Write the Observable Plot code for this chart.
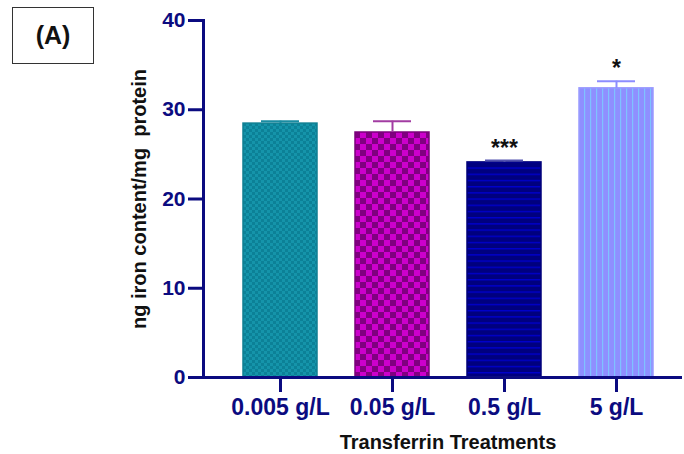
<!DOCTYPE html>
<html>
<head>
<meta charset="utf-8">
<script src="https://cdn.jsdelivr.net/npm/d3@7"></script>
<script src="https://cdn.jsdelivr.net/npm/@observablehq/plot@0.6"></script>
<style>
  html, body { margin: 0; padding: 0; background: #fff; }
  #chart { position: relative; width: 684px; height: 454px; font-family: "Liberation Sans", Arial, sans-serif; }
  #panel {
    position: absolute; left: 12px; top: 7px; width: 80px; height: 55px;
    border: 1px solid #333; display: flex; align-items: center; justify-content: center;
    font-weight: bold; font-size: 25px; color: #111; background: #fff;
  }
</style>
</head>
<body>
<div id="chart"><div id="panel">(A)</div></div>
<script>
// Iron content per treatment (mean and SD)
const treatments = ["0.005 g/L", "0.05 g/L", "0.5 g/L", "5 g/L"];
const means = [28.45, 27.45, 24.1, 32.4];
const sds = [0.27, 1.27, 0.21, 0.8];
const stars = ["", "", "***", "*"];
const yTicks = [0, 10, 20, 30, 40];

// Fill patterns and edge colours, one per treatment
const patternIds = ["pat-teal", "pat-purple", "pat-navy", "pat-blue"];
const edgeColors = ["#0f7f93", "#7a007a", "#00007a", "#9a9aff"];
const capColors = ["#1a8ca2", "#a23ca2", "#5252b0", "#8c8cff"];

const navy = "#0b0b80";

const rows = treatments.map((t, i) => ({
  treatment: t,
  mean: means[i],
  top: means[i] + sds[i],
  star: stars[i],
  fill: `url(#${patternIds[i]})`,
  edge: edgeColors[i],
  cap: capColors[i]
}));

const svg = Plot.plot({
  width: 684,
  height: 454,
  marginTop: 20,
  marginBottom: 77,
  marginLeft: 203,
  marginRight: 4,
  style: { fontFamily: '"Liberation Sans", Arial, sans-serif', fontWeight: "bold", background: "transparent" },
  x: { domain: treatments, range: [241, 655], paddingInner: 0.336, paddingOuter: 0, axis: null },
  y: { domain: [0, 40], axis: null },
  color: { type: "identity" },
  marks: [
    Plot.barY(rows, { x: "treatment", y: "mean", fill: "fill", stroke: "edge", strokeWidth: 1.5 }),
    Plot.ruleX(rows, { x: "treatment", y1: "mean", y2: "top", stroke: "cap", strokeWidth: 2 }),
    Plot.tickY(rows, { x: "treatment", y: "top", stroke: "cap", strokeWidth: 2, insetLeft: 18, insetRight: 18 }),
    Plot.text(rows, { x: "treatment", y: "top", text: "star", lineAnchor: "bottom", dy: -5, fontSize: 23, fill: "#111" }),
    Plot.frame({ anchor: "left", stroke: navy, strokeWidth: 3 }),
    Plot.frame({ anchor: "bottom", stroke: navy, strokeWidth: 3 }),
    Plot.axisY({ ticks: yTicks, tickSize: 15, tickPadding: 3, strokeWidth: 3, color: navy, fontSize: 21, label: null }),
    Plot.axisX({ tickSize: 15, tickPadding: 6, strokeWidth: 3, color: navy, fontSize: 23, label: null }),
    Plot.text(["Transferrin Treatments"], { frameAnchor: "bottom", dx: 6, dy: 65, lineAnchor: "middle", fontSize: 20, fill: "#111" }),
    Plot.text(["ng iron content/mg\u00a0 protein"], { frameAnchor: "left", textAnchor: "middle", rotate: -90, dx: -64, lineAnchor: "middle", fontSize: 20, fill: "#111" })
  ]
});

// Pattern definitions referenced by the bar fills
const defs = d3.select(svg).insert("defs", ":first-child");

const teal = defs.append("pattern").attr("id", "pat-teal").attr("patternUnits", "userSpaceOnUse").attr("width", 6).attr("height", 6);
teal.append("rect").attr("width", 6).attr("height", 6).attr("fill", "#1594aa");
teal.append("rect").attr("width", 3).attr("height", 3).attr("fill", "#0c8197");
teal.append("rect").attr("x", 3).attr("y", 3).attr("width", 3).attr("height", 3).attr("fill", "#0c8197");

const purple = defs.append("pattern").attr("id", "pat-purple").attr("patternUnits", "userSpaceOnUse").attr("width", 12).attr("height", 12);
purple.append("rect").attr("width", 12).attr("height", 12).attr("fill", "#800080");
purple.append("rect").attr("width", 6).attr("height", 6).attr("fill", "#cc00cc");
purple.append("rect").attr("x", 6).attr("y", 6).attr("width", 6).attr("height", 6).attr("fill", "#cc00cc");

const navyPat = defs.append("pattern").attr("id", "pat-navy").attr("patternUnits", "userSpaceOnUse").attr("width", 6).attr("height", 6.2);
navyPat.append("rect").attr("width", 6).attr("height", 6.2).attr("fill", "#00007e");
navyPat.append("rect").attr("y", 0).attr("width", 6).attr("height", 1.4).attr("fill", "#0000cc");

const blue = defs.append("pattern").attr("id", "pat-blue").attr("patternUnits", "userSpaceOnUse").attr("width", 6).attr("height", 6);
blue.append("rect").attr("width", 6).attr("height", 6).attr("fill", "#8f8fff");
blue.append("rect").attr("x", 2).attr("width", 1.2).attr("height", 6).attr("fill", "#7fc2ff");

document.getElementById("chart").prepend(svg);
</script>
</body>
</html>
